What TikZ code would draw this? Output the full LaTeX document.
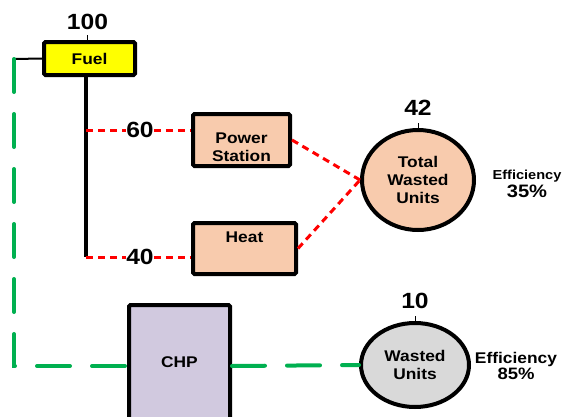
\documentclass[tikz,border=0pt]{standalone}
\usepackage{fontspec}
\setmainfont[FakeStretch=1.12]{Liberation Sans}
\usepackage{tikz}
\usetikzlibrary{arrows.meta,positioning,shapes.geometric,calc}

\definecolor{fuelyellow}{HTML}{FFFF00}
\definecolor{peach}{HTML}{F8CBAD}
\definecolor{lavender}{HTML}{D1C9DF}
\definecolor{lightgray}{HTML}{D9D9D9}
\definecolor{chpgreen}{HTML}{00B050}

\begin{document}
\begin{tikzpicture}[
    x=1pt, y=-1pt,
    box/.style={draw, line width=4pt, rounded corners=1.5pt, align=center, inner sep=0pt, font=\fontsize{15.5}{18}\selectfont\bfseries},
    unit/.style={draw, ellipse, line width=4pt, align=center, inner sep=0pt, font=\fontsize{15.5}{18}\selectfont\bfseries},
    num/.style={inner sep=0pt, font=\fontsize{22}{24}\selectfont\bfseries},
    eff/.style={align=center, inner sep=0pt, font=\bfseries},
    loss/.style={red, line width=3pt, dash pattern=on 7pt off 5pt},
    chpflow/.style={chpgreen, line width=4pt, line cap=round, dash pattern=on 33pt off 22pt},
    tick/.style={line width=0.6pt}
]
\useasboundingbox (0,0) rectangle (563,416);
\clip (0,0) rectangle (563,416);

\node[box, fill=fuelyellow, minimum width=91pt, minimum height=33pt] (fuel) at (89.5,58.5) {Fuel};
\node[num, above=10pt of fuel, xshift=-2pt] (q100) {100};
\draw[tick] (fuel.north -| q100) -- ++(0,-5);

% Separate generation
\coordinate (trunk) at (86,257);
\draw[line width=4pt] (fuel.south -| trunk) -- (trunk);

\node[box, fill=peach, minimum width=97pt, minimum height=52pt] (ps) at (241.5,140) {};
\node[box, draw=none, fill=none, rounded corners=0pt] (pstext) at (241.5,147) {Power\\Station};
\node[box, fill=peach, minimum width=103pt, minimum height=51pt, text depth=22pt] (heat) at (244.5,248.5) {Heat};
\node[num] (q60) at (140,130) {60};
\node[num] (q40) at (140,257) {40};
\draw[loss] (trunk |- q60) -- (q60) -- (q60 -| ps.west);
\draw[loss] (trunk) -- (q40) -- (q40 -| heat.west);

\node[unit, fill=peach, minimum width=112pt, minimum height=100pt] (total) at (418,180) {Total\\Wasted\\Units};
\node[num, above=12pt of total] (q42) {42};
\draw[tick] (total.north) -- ++(0,-5);
\draw[loss] (ps.east) -- (total.west);
\draw[loss] (heat.east) -- (total.west);
\node[eff] (eff35) at (527,184) {\fontsize{13}{14}\selectfont Efficiency\\[1pt]\fontsize{18}{18}\selectfont 35\%};

% CHP
\node[box, fill=lavender, minimum width=101pt, minimum height=140pt, text depth=26pt] (chp) at (179.5,375) {CHP};
\node[unit, fill=lightgray, minimum width=108pt, minimum height=84pt] (wasted) at (415,365) {Wasted\\Units};
\node[num, above=12pt of wasted] (q10) {10};
\draw[tick] (wasted.north) -- ++(0,-5);
\node[eff] (eff85) at (516,366) {\fontsize{15.5}{18}\selectfont Efficiency\\\fontsize{16.5}{18}\selectfont 85\%};

\coordinate (gtop) at (14,59);
\coordinate (gcorner) at (14,366);
\draw[line width=2pt] (fuel.west) -- (gtop);
\draw[chpflow] (gtop) -- (gcorner) -- (gcorner -| chp.west);
\draw[chpflow] (chp.east |- gcorner) -- (wasted.west);

\end{tikzpicture}
\end{document}
